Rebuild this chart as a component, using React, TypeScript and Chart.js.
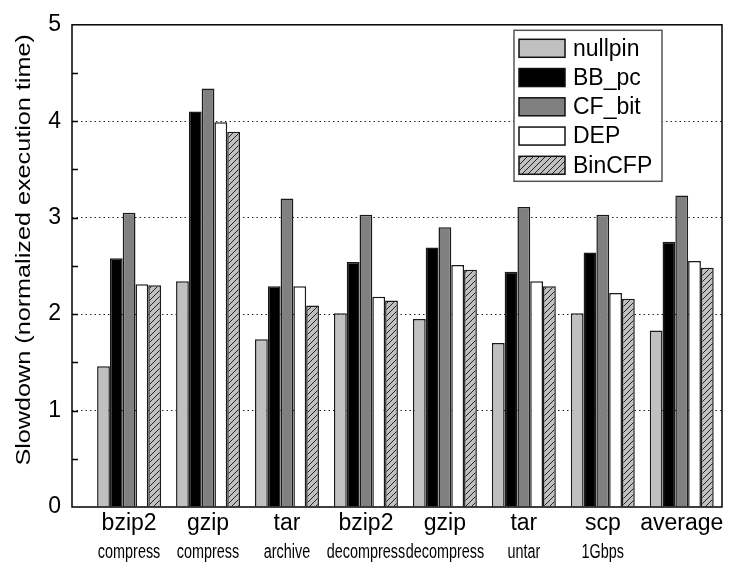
import React, { useEffect, useRef } from 'react';
import { Chart, registerables } from 'chart.js';

Chart.register(...registerables);

const categories = ['bzip2', 'gzip', 'tar', 'bzip2', 'gzip', 'tar', 'scp', 'average'];
const subLabels = ['compress', 'compress', 'archive', 'decompress', 'decompress', 'untar', '1Gbps', ''];
const seriesNames = ['nullpin', 'BB_pc', 'CF_bit', 'DEP', 'BinCFP'];
const nullpin = [1.46, 2.34, 1.74, 2.01, 1.95, 1.70, 2.01, 1.83];
const bbPc = [2.58, 4.10, 2.29, 2.54, 2.69, 2.44, 2.64, 2.75];
const cfBit = [3.05, 4.34, 3.20, 3.03, 2.90, 3.11, 3.03, 3.23];
const dep = [2.31, 3.99, 2.29, 2.18, 2.51, 2.34, 2.22, 2.55];
const binCfp = [2.30, 3.89, 2.09, 2.14, 2.46, 2.29, 2.16, 2.48];
const yTicks = [0, 1, 2, 3, 4, 5];
const yTitle = 'Slowdown (normalized execution time)';

const FONT = "'Liberation Sans', Arial, Helvetica, sans-serif";

function makeHatch(): CanvasPattern | string {
  const c = document.createElement('canvas');
  c.width = 6;
  c.height = 6;
  const g = c.getContext('2d');
  if (!g) return '#c0c0c0';
  g.fillStyle = '#c0c0c0';
  g.fillRect(0, 0, 6, 6);
  g.strokeStyle = '#222';
  g.lineWidth = 1;
  g.beginPath();
  g.moveTo(0, 6);
  g.lineTo(6, 0);
  g.moveTo(-1, 1);
  g.lineTo(1, -1);
  g.moveTo(5, 7);
  g.lineTo(7, 5);
  g.stroke();
  return g.createPattern(c, 'repeat') || '#c0c0c0';
}

const framePlugin = {
  id: 'frame',
  afterDatasetsDraw(chart: any) {
    const { ctx, chartArea } = chart;
    const { left, right, top, bottom } = chartArea;
    const yScale = chart.scales.y;
    ctx.save();
    ctx.strokeStyle = '#000';
    ctx.lineWidth = 1.5;
    for (let v = 0.5; v < 5; v += 0.5) {
      const y = Math.round(yScale.getPixelForValue(v)) + 0.5;
      ctx.beginPath();
      ctx.moveTo(left, y);
      ctx.lineTo(left + 6, y);
      ctx.stroke();
    }
    ctx.strokeRect(left, top, right - left, bottom - top);

    // legend
    const bx = right - 208;
    const by = top + 5.5;
    const bw = 148;
    const bh = 151;
    ctx.fillStyle = '#fff';
    ctx.fillRect(bx, by, bw, bh);
    ctx.strokeStyle = '#555';
    ctx.lineWidth = 1.5;
    ctx.strokeRect(bx, by, bw, bh);
    chart.data.datasets.forEach((ds: any, i: number) => {
      const cy = by + 18 + i * 29.25;
      ctx.fillStyle = ds.backgroundColor;
      ctx.fillRect(bx + 5, cy - 9, 46, 18);
      ctx.strokeStyle = '#111';
      ctx.lineWidth = 1.5;
      ctx.strokeRect(bx + 5, cy - 9, 46, 18);
      ctx.fillStyle = '#000';
      ctx.font = `23px ${FONT}`;
      ctx.textBaseline = 'middle';
      ctx.textAlign = 'left';
      ctx.fillText(ds.label, bx + 59, cy + 1);
    });

    // sub labels (condensed)
    const xScale = chart.scales.x;
    ctx.font = `20px ${FONT}`;
    ctx.textAlign = 'center';
    ctx.textBaseline = 'alphabetic';
    ctx.fillStyle = '#000';
    subLabels.forEach((s, i) => {
      ctx.save();
      ctx.translate(xScale.getPixelForValue(i), bottom + 51);
      ctx.scale(0.72, 1);
      ctx.fillText(s, 0, 0);
      ctx.restore();
    });

    // y title
    ctx.save();
    ctx.translate(24, (top + bottom) / 2 - 16);
    ctx.rotate(-Math.PI / 2);
    ctx.scale(1.2, 1);
    ctx.font = `21px ${FONT}`;
    ctx.textAlign = 'center';
    ctx.textBaseline = 'middle';
    ctx.fillStyle = '#000';
    ctx.fillText(yTitle, 0, 0);
    ctx.restore();

    ctx.restore();
  },
};

export default function App() {
  const ref = useRef<HTMLCanvasElement | null>(null);
  useEffect(() => {
    if (!ref.current) return;
    const hatch = makeHatch();
    const series = [nullpin, bbPc, cfBit, dep, binCfp];
    const fills: any[] = ['#c0c0c0', '#000000', '#808080', '#ffffff', hatch];
    const chart = new Chart(ref.current, {
      type: 'bar',
      data: {
        datasets: series.map((vals, si) => ({
          label: seriesNames[si],
          data: vals.map((v, i) => ({ x: i, y: v })),
          backgroundColor: fills[si],
          borderColor: '#1a1a1a',
          borderWidth: 1.5,
          categoryPercentage: 0.81,
          barPercentage: 1.0,
        })),
      },
      options: {
        responsive: false,
        animation: false,
        layout: { padding: { top: 19, right: 13, left: 0, bottom: 0 } },
        plugins: {
          legend: { display: false },
          tooltip: { enabled: false },
        },
        scales: {
          x: {
            type: 'linear',
            offset: false,
            min: -0.723,
            max: 7.51,
            afterBuildTicks: (scale: any) => {
              scale.ticks = categories.map((_, i) => ({ value: i }));
            },
            afterFit: (scale: any) => {
              scale.height = 58;
            },
            grid: { display: false, drawTicks: false },
            border: { display: false },
            ticks: {
              autoSkip: false,
              maxRotation: 0,
              padding: 3,
              color: '#000',
              font: { family: FONT, size: 23 },
              callback: (v: any) => categories[Math.round(Number(v))] ?? '',
            },
          },
          y: {
            min: 0,
            max: 5,
            afterBuildTicks: (scale: any) => {
              scale.ticks = yTicks.map((v) => ({ value: v }));
            },
            afterFit: (scale: any) => {
              scale.width = 72;
            },
            grid: {
              drawTicks: false,
              color: (c: any) => (c.tick && c.tick.value > 0 && c.tick.value < 5 ? '#222' : 'rgba(0,0,0,0)'),
              lineWidth: 1,
            },
            border: { display: false, dash: [1.5, 3] },
            ticks: {
              padding: 11,
              color: '#000',
              font: { family: FONT, size: 23 },
            },
          },
        },
      },
      plugins: [framePlugin],
    } as any);
    return () => chart.destroy();
  }, []);
  return (
    <canvas
      ref={ref}
      width={735}
      height={565}
      style={{ position: 'fixed', left: 0, top: 0, width: 735, height: 565, display: 'block', background: '#fff' }}
    />
  );
}
